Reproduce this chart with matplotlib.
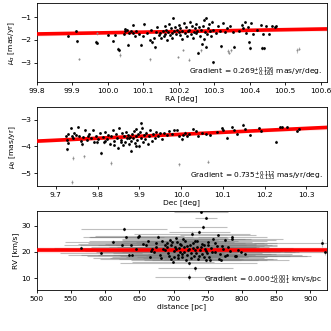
import numpy as np
import matplotlib
matplotlib.use("Agg")
import matplotlib.pyplot as plt

plt.rcParams['font.size'] = 5.4
plt.rcParams['axes.linewidth'] = 0.6
plt.rcParams['xtick.major.width'] = 0.6
plt.rcParams['ytick.major.width'] = 0.6
plt.rcParams['xtick.major.size'] = 2.5
plt.rcParams['ytick.major.size'] = 2.5

# ---- panel 1: RA vs proper motion in RA ----
ra1 = [99.889, 99.912, 99.913, 99.968, 99.971, 100.000, 100.016, 100.020, 100.030, 100.032,
       100.045, 100.048, 100.050, 100.053, 100.057, 100.060, 100.065, 100.070, 100.072, 100.078,
       100.080, 100.088, 100.095, 100.098, 100.103, 100.110, 100.120, 100.123, 100.125, 100.130,
       100.133, 100.135, 100.140, 100.145, 100.148, 100.150, 100.155, 100.158, 100.160, 100.162,
       100.165, 100.168, 100.170, 100.172, 100.175, 100.178, 100.180, 100.182, 100.185, 100.187,
       100.190, 100.192, 100.195, 100.200, 100.200, 100.203, 100.205, 100.208, 100.210, 100.215,
       100.218, 100.220, 100.222, 100.225, 100.230, 100.232, 100.235, 100.238, 100.240, 100.242,
       100.245, 100.248, 100.250, 100.252, 100.255, 100.257, 100.260, 100.264, 100.266, 100.268,
       100.270, 100.272, 100.274, 100.276, 100.278, 100.280, 100.283, 100.285, 100.288, 100.290,
       100.293, 100.296, 100.298, 100.305, 100.310, 100.315, 100.320, 100.325, 100.330, 100.335,
       100.345, 100.352, 100.357, 100.370, 100.377, 100.380, 100.387, 100.390, 100.395, 100.398,
       100.400, 100.405, 100.410, 100.420, 100.432, 100.435, 100.437, 100.440, 100.447, 100.455,
       100.462, 100.470, 100.475]
pmra1 = [-1.84, -1.62, -2.06, -2.08, -2.12, -1.78, -2.04, -1.78, -2.38, -2.45,
         -1.73, -1.53, -1.60, -1.58, -2.20, -1.68, -1.63, -1.34, -1.71, -1.85,
         -1.60, -1.75, -2.20, -1.85, -1.32, -1.70, -2.00, -1.55, -2.10, -1.90,
         -2.32, -1.65, -1.45, -1.78, -1.70, -1.92, -1.60, -1.85, -1.40, -1.75,
         -1.55, -2.00, -1.65, -1.30, -1.80, -1.50, -1.70, -1.90, -1.04, -1.60,
         -1.45, -1.75, -1.55, -1.65, -1.35, -1.80, -1.50, -1.95, -1.60, -1.25,
         -1.70, -1.45, -1.85, -1.60, -1.55, -1.20, -1.75, -1.40, -1.90, -1.65,
         -1.50, -1.30, -1.70, -1.60, -2.55, -1.45, -1.85, -1.55, -2.18, -1.40,
         -1.98, -1.12, -1.65, -2.30, -1.04, -1.75, -1.50, -1.30, -1.60, -1.85,
         -1.20, -2.98, -1.55, -1.70, -1.40, -1.60, -2.28, -1.25, -1.65, -1.50,
         -1.38, -1.65, -2.30, -1.62, -1.33, -1.50, -1.23, -1.70, -1.45, -2.10,
         -2.35, -1.28, -1.75, -1.55, -1.33, -2.35, -1.73, -2.37, -1.40, -1.75,
         -1.38, -1.42, -1.40]
pmra1_err = [0.04, 0.05, 0.06, 0.09, 0.05, 0.04, 0.05, 0.03, 0.08, 0.07,
             0.04, 0.06, 0.03, 0.04, 0.07, 0.03, 0.04, 0.05, 0.03, 0.04,
             0.03, 0.04, 0.05, 0.03, 0.07, 0.03, 0.05, 0.04, 0.06, 0.03,
             0.06, 0.03, 0.04, 0.03, 0.04, 0.05, 0.03, 0.04, 0.03, 0.04,
             0.03, 0.05, 0.03, 0.04, 0.03, 0.04, 0.03, 0.05, 0.04, 0.03,
             0.04, 0.03, 0.04, 0.03, 0.04, 0.03, 0.04, 0.05, 0.03, 0.04,
             0.03, 0.04, 0.03, 0.03, 0.04, 0.05, 0.03, 0.04, 0.05, 0.03,
             0.04, 0.05, 0.03, 0.03, 0.08, 0.04, 0.05, 0.03, 0.06, 0.04,
             0.05, 0.06, 0.03, 0.07, 0.06, 0.04, 0.03, 0.05, 0.03, 0.04,
             0.05, 0.08, 0.03, 0.04, 0.03, 0.04, 0.06, 0.04, 0.03, 0.04,
             0.04, 0.03, 0.06, 0.04, 0.05, 0.04, 0.05, 0.03, 0.04, 0.06,
             0.07, 0.04, 0.05, 0.03, 0.04, 0.07, 0.04, 0.08, 0.05, 0.04,
             0.04, 0.05, 0.04]
# low-weight stars (drawn faint)
ra1_faint = [99.920, 99.970, 100.035, 100.118, 100.198, 100.212, 100.228,
             100.262, 100.338, 100.342, 100.346, 100.532, 100.540]
pmra1_faint = [-2.83, -1.70, -2.66, -2.85, -2.75, -2.45, -2.86,
               -2.45, -2.50, -2.55, -2.45, -2.45, -2.38]
pmra1_faint_err = [0.05, 0.08, 0.07, 0.08, 0.06, 0.05, 0.06,
                   0.07, 0.09, 0.08, 0.07, 0.10, 0.08]

# ---- panel 2: Dec vs proper motion in Dec ----
dec2 = [9.724, 9.726, 9.726, 9.730, 9.735, 9.738, 9.742, 9.748, 9.753, 9.756,
        9.760, 9.765, 9.770, 9.775, 9.780, 9.785, 9.789, 9.792, 9.796, 9.800,
        9.805, 9.808, 9.812, 9.815, 9.818, 9.822, 9.826, 9.830, 9.833, 9.836,
        9.840, 9.843, 9.846, 9.849, 9.852, 9.855, 9.858, 9.860, 9.863, 9.866,
        9.868, 9.870, 9.872, 9.875, 9.877, 9.879, 9.881, 9.883, 9.885, 9.887,
        9.889, 9.891, 9.893, 9.895, 9.897, 9.899, 9.901, 9.903, 9.905, 9.907,
        9.909, 9.911, 9.914, 9.917, 9.920, 9.923, 9.926, 9.930, 9.933, 9.937,
        9.940, 9.945, 9.950, 9.955, 9.960, 9.966, 9.972, 9.978, 9.984, 9.989,
        9.995, 10.001, 10.005, 10.009, 10.015, 10.020, 10.029, 10.035, 10.040, 10.050,
        10.060, 10.069, 10.085, 10.097, 10.100, 10.109, 10.123, 10.128, 10.133, 10.149,
        10.152, 10.165, 10.187, 10.192, 10.228, 10.237, 10.243, 10.253, 10.279, 10.282,
        9.728, 9.744, 9.762, 9.778, 9.798, 9.817, 9.838, 9.856, 9.874, 9.892]
pmdec2 = [-3.61, -3.77, -4.11, -3.55, -3.32, -3.62, -3.70, -3.58, -3.27, -3.60,
          -3.80, -3.65, -3.40, -3.75, -3.55, -3.68, -3.39, -3.82, -3.60, -3.72,
          -3.50, -4.24, -3.65, -3.85, -3.45, -3.72, -3.58, -3.90, -3.62, -3.40,
          -3.80, -3.55, -3.68, -4.05, -3.32, -3.75, -3.50, -3.95, -3.62, -3.85,
          -3.45, -3.70, -3.58, -3.92, -3.65, -4.15, -3.78, -3.52, -3.70, -3.42,
          -3.88, -3.62, -3.35, -3.75, -3.55, -3.98, -3.45, -3.14, -3.68, -3.30,
          -3.82, -3.58, -3.72, -3.48, -3.90, -3.62, -3.40, -3.78, -3.55, -3.68,
          -3.45, -3.60, -3.50, -3.72, -3.48, -3.58, -3.42, -3.55, -3.40, -3.39,
          -3.62, -3.73, -3.58, -3.48, -3.62, -3.52, -3.35, -3.42, -3.61, -3.50,
          -3.52, -3.57, -3.45, -3.32, -3.38, -3.67, -3.29, -3.40, -3.54, -3.19,
          -3.36, -3.57, -3.32, -3.42, -3.82, -3.29, -3.26, -3.27, -3.42, -3.35,
          -3.88, -3.50, -3.92, -3.60, -3.85, -3.78, -3.95, -3.82, -3.70, -3.98]
pmdec2_err = [0.04, 0.05, 0.06, 0.03, 0.04, 0.03, 0.05, 0.03, 0.04, 0.03,
              0.04, 0.03, 0.05, 0.03, 0.04, 0.03, 0.04, 0.05, 0.03, 0.04,
              0.03, 0.06, 0.03, 0.04, 0.03, 0.04, 0.03, 0.05, 0.03, 0.04,
              0.04, 0.03, 0.04, 0.06, 0.04, 0.03, 0.03, 0.05, 0.03, 0.04,
              0.03, 0.04, 0.03, 0.05, 0.03, 0.07, 0.04, 0.03, 0.04, 0.03,
              0.05, 0.03, 0.04, 0.03, 0.03, 0.06, 0.03, 0.06, 0.04, 0.05,
              0.04, 0.03, 0.03, 0.04, 0.05, 0.03, 0.04, 0.04, 0.03, 0.04,
              0.03, 0.04, 0.03, 0.04, 0.03, 0.04, 0.03, 0.04, 0.03, 0.04,
              0.04, 0.05, 0.03, 0.04, 0.03, 0.04, 0.04, 0.03, 0.04, 0.03,
              0.04, 0.05, 0.04, 0.05, 0.04, 0.05, 0.04, 0.03, 0.05, 0.06,
              0.04, 0.05, 0.04, 0.03, 0.05, 0.04, 0.04, 0.03, 0.05, 0.04,
              0.04, 0.03, 0.05, 0.03, 0.04, 0.03, 0.05, 0.04, 0.03, 0.05]
dec2_faint = [9.739, 9.741, 9.768, 9.831, 9.996, 10.064]
pmdec2_faint = [-5.32, -4.43, -4.37, -4.62, -4.66, -4.56]
pmdec2_faint_err = [0.08, 0.07, 0.07, 0.08, 0.06, 0.07]

# ---- panel 3: distance vs radial velocity ----
dist3 = [565, 594, 611, 627, 625, 631, 638, 640, 635, 648,
         650, 645, 655, 660, 665, 668, 672, 675, 678, 682,
         685, 688, 690, 692, 695, 697, 699, 700, 702, 704,
         706, 708, 710, 712, 714, 716, 718, 720, 722, 723,
         725, 727, 728, 730, 732, 734, 736, 738, 740, 742,
         743, 745, 747, 748, 750, 752, 755, 758, 760, 763,
         766, 769, 772, 775, 778, 782, 786, 790, 794, 805,
         917, 921, 732, 723, 748, 740, 662, 667, 674, 680,
         683, 687, 691, 694, 696, 698, 701, 703, 705, 707,
         709, 711, 713, 715, 717, 719, 721, 724, 726, 729,
         731, 733, 735, 737, 739, 741, 744, 746, 749, 751,
         754, 757, 761, 765, 768, 771, 776, 780, 785, 791,
         799]
rv3 = [21.6, 19.6, 23.8, 28.8, 22.5, 25.6, 22.5, 18.8, 18.8, 25.6,
       26.0, 21.0, 23.0, 22.5, 18.2, 21.0, 19.8, 23.5, 25.8, 17.8,
       21.2, 22.8, 23.5, 19.5, 24.5, 17.5, 16.3, 20.5, 22.0, 25.3,
       19.0, 21.5, 23.0, 18.2, 24.8, 20.0, 17.0, 22.3, 15.9, 21.0,
       19.5, 26.9, 23.5, 18.5, 20.8, 24.0, 17.2, 27.5, 21.8, 19.2,
       29.4, 22.8, 16.8, 20.3, 23.8, 18.0, 21.5, 25.0, 19.8, 22.2,
       17.5, 16.9, 21.0, 24.5, 19.0, 20.5, 25.6, 18.4, 20.8, 19.4,
       23.4, 20.1, 13.8, 10.6, 33.0, 35.3, 24.0, 20.2, 22.0, 19.0,
       24.2, 20.8, 21.8, 18.6, 22.6, 23.6, 18.0, 21.2, 23.9, 17.8,
       20.0, 22.5, 19.3, 21.8, 24.0, 18.8, 20.6, 22.8, 17.6, 21.4,
       24.3, 19.7, 22.0, 18.4, 20.9, 23.2, 17.9, 21.2, 19.5, 22.6,
       16.8, 20.0, 23.3, 26.4, 19.2, 22.4, 18.6, 21.8, 24.9, 18.6,
       20.0]
dist3_err = [40, 60, 70, 63, 85, 55, 75, 50, 90, 80,
             65, 110, 95, 70, 55, 120, 85, 60, 100, 75,
             90, 65, 115, 80, 70, 105, 60, 130, 85, 75,
             95, 70, 110, 65, 90, 125, 80, 60, 100, 75,
             50, 85, 105, 70, 95, 60, 115, 45, 80, 100,
             35, 75, 90, 110, 65, 85, 120, 55, 95, 70,
             80, 100, 60, 75, 110, 90, 50, 105, 70, 45,
             100, 60, 55, 50, 16, 40, 85, 70, 95, 115,
             75, 100, 65, 120, 80, 90, 70, 105, 60, 125,
             85, 95, 75, 110, 65, 100, 80, 120, 70, 90,
             105, 60, 85, 115, 75, 95, 65, 110, 80, 100,
             70, 120, 90, 55, 105, 80, 95, 60, 75, 110,
             85]
rv3_err = [0.6, 0.5, 0.7, 0.8, 0.5, 0.6, 0.4, 0.5, 0.6, 0.7,
           0.8, 0.5, 0.4, 0.6, 0.5, 0.4, 0.5, 0.6, 0.7, 0.4,
           0.5, 0.4, 0.6, 0.5, 0.7, 0.4, 0.6, 0.5, 0.4, 0.6,
           0.5, 0.4, 0.6, 0.5, 0.7, 0.4, 0.5, 0.6, 0.8, 0.4,
           0.5, 0.9, 0.4, 0.5, 0.6, 0.5, 0.4, 0.7, 0.5, 0.6,
           0.8, 0.5, 0.6, 0.4, 0.5, 0.6, 0.4, 0.7, 0.5, 0.4,
           0.6, 0.5, 0.4, 0.7, 0.5, 0.6, 0.9, 0.8, 0.5, 0.6,
           1.5, 1.2, 1.0, 1.2, 0.6, 0.5, 0.5, 0.4, 0.6, 0.5,
           0.4, 0.5, 0.6, 0.4, 0.5, 0.6, 0.4, 0.5, 0.6, 0.4,
           0.5, 0.4, 0.6, 0.5, 0.4, 0.5, 0.6, 0.4, 0.5, 0.6,
           0.5, 0.4, 0.6, 0.5, 0.4, 0.5, 0.6, 0.4, 0.5, 0.6,
           0.5, 0.4, 0.6, 0.5, 0.4, 0.5, 0.6, 0.4, 0.5, 0.6,
           0.5]

# fitted gradients: (slope, +err, -err, pivot x, value at pivot, intercept err)
fit1 = (0.269, 0.156, 0.163, 100.2, -1.632, 0.03)
fit2 = (0.735, 0.112, 0.133, 9.95, -3.582, 0.03)
fit3 = (0.000, 0.001, 0.001, 720.0, 20.8, 0.9)
grad_labels = [r"Gradient = $0.269^{+0.156}_{-0.163}$ mas/yr/deg.",
               r"Gradient = $0.735^{+0.112}_{-0.133}$ mas/yr/deg.",
               r"Gradient = $0.000^{+0.001}_{-0.001}$ km/s/pc"]


def draw_fit(ax, fit, xlim):
    m, up, lo, x0, y0, dy = fit
    xs = np.linspace(xlim[0], xlim[1], 200)
    cands = [y0 + s * (xs - x0) + d for s in (m + up, m - lo) for d in (dy, -dy)]
    ax.fill_between(xs, np.min(cands, axis=0), np.max(cands, axis=0),
                    color='red', alpha=0.12, lw=0, zorder=3)
    half = [y0 + s * (xs - x0) + d for s in (m + up / 2, m - lo / 2) for d in (dy / 2, -dy / 2)]
    ax.fill_between(xs, np.min(half, axis=0), np.max(half, axis=0),
                    color='red', alpha=0.15, lw=0, zorder=3)
    ax.plot(xs, y0 + m * (xs - x0), color='red', lw=2.6, zorder=4)


fig, axes = plt.subplots(3, 1, figsize=(3.31, 3.31), dpi=100)
plt.subplots_adjust(left=0.111, right=0.987, top=0.99, bottom=0.124, hspace=0.31)

err_kw = dict(fmt='none', ecolor='gray', elinewidth=0.8, alpha=0.5, zorder=1)

# panel 1
ax = axes[0]
xlim1 = (99.8, 100.617)
ax.errorbar(ra1, pmra1, yerr=pmra1_err, **err_kw)
ax.errorbar(ra1_faint, pmra1_faint, yerr=pmra1_faint_err, **err_kw)
ax.plot(ra1, pmra1, 'o', color='k', ms=2.0, mew=0, zorder=5)
ax.plot(ra1_faint, pmra1_faint, 'o', color='0.55', ms=1.4, mew=0, zorder=5)
draw_fit(ax, fit1, xlim1)
ax.set_xlim(xlim1)
ax.set_ylim(-3.86, -0.4)
ax.set_xticks([99.8, 99.9, 100.0, 100.1, 100.2, 100.3, 100.4, 100.5, 100.6])
ax.set_yticks([-1, -2, -3])
ax.set_xlabel('RA [deg]', labelpad=1)
ax.set_ylabel(r'$\mu_\alpha$ [mas/yr]', labelpad=2)

# panel 2
ax = axes[1]
xlim2 = (9.654, 10.349)
ax.errorbar(dec2, pmdec2, yerr=pmdec2_err, **err_kw)
ax.errorbar(dec2_faint, pmdec2_faint, yerr=pmdec2_faint_err, **err_kw)
ax.plot(dec2, pmdec2, 'o', color='k', ms=2.0, mew=0, zorder=5)
ax.plot(dec2_faint, pmdec2_faint, 'o', color='0.55', ms=1.4, mew=0, zorder=5)
draw_fit(ax, fit2, xlim2)
ax.set_xlim(xlim2)
ax.set_ylim(-5.48, -2.53)
ax.set_xticks([9.7, 9.8, 9.9, 10.0, 10.1, 10.2, 10.3])
ax.set_yticks([-3, -4, -5])
ax.set_xlabel('Dec [deg]', labelpad=1)
ax.set_ylabel(r'$\mu_\delta$ [mas/yr]', labelpad=2)

# panel 3
ax = axes[2]
xlim3 = (500, 924)
ax.errorbar(dist3, rv3, xerr=dist3_err, yerr=rv3_err, **err_kw)
ax.plot(dist3, rv3, 'o', color='k', ms=2.0, mew=0, zorder=5)
draw_fit(ax, fit3, xlim3)
ax.set_xlim(xlim3)
ax.set_ylim(5.6, 35.6)
ax.set_xticks([500, 550, 600, 650, 700, 750, 800, 850, 900])
ax.set_yticks([10, 20, 30])
ax.set_xlabel('distance [pc]', labelpad=1)
ax.set_ylabel('RV [km/s]', labelpad=2)

for ax, lab in zip(axes, grad_labels):
    ax.tick_params(pad=1.5)
    ax.text(0.985, 0.04, lab, transform=ax.transAxes, ha='right', va='bottom',
            fontsize=5.4, zorder=6)

fig.savefig('out.png', dpi=100)
